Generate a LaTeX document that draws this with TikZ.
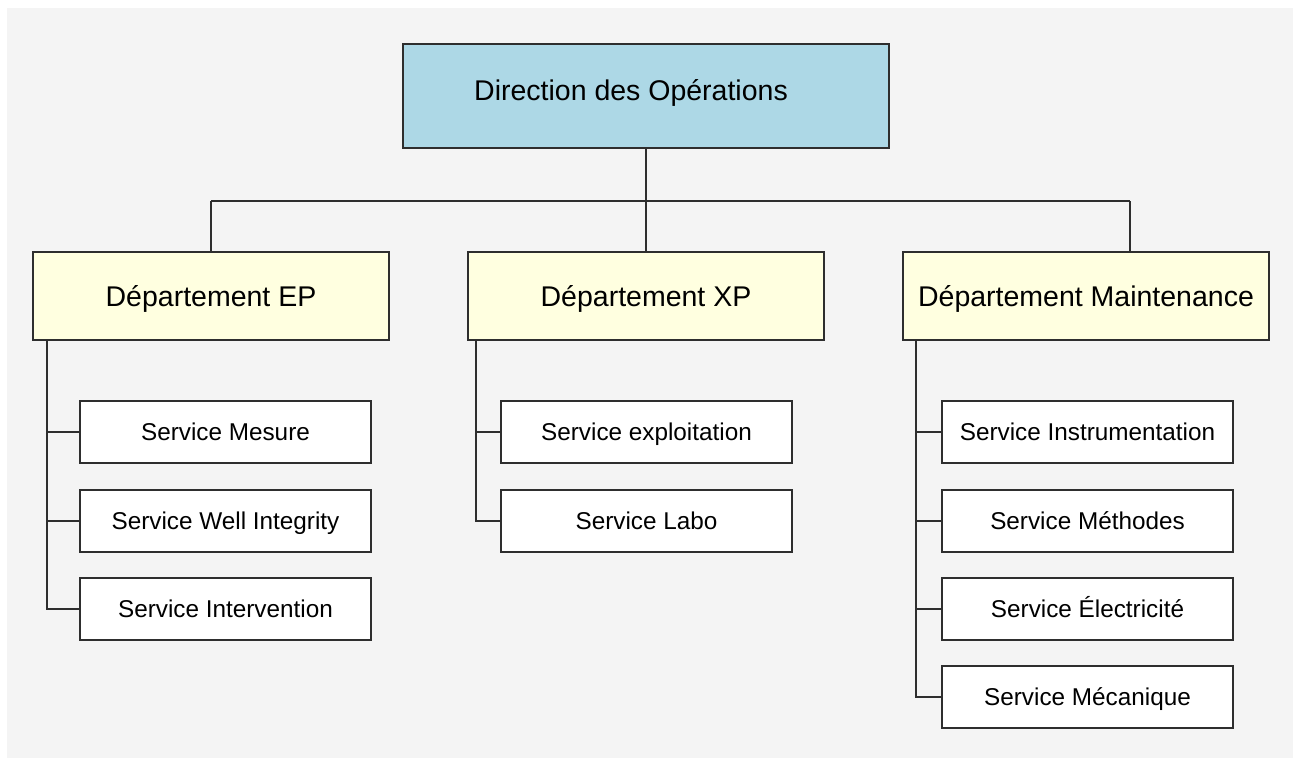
\documentclass[tikz,border=0pt]{standalone}
\usepackage{fontspec}
\setmainfont{Liberation Sans}
\definecolor{panel}{HTML}{F4F4F4}
\definecolor{topfill}{HTML}{ADD8E6}
\definecolor{deptfill}{HTML}{FFFFE0}
\definecolor{ink}{HTML}{2E2E2E}
\tikzset{
  box/.style={draw=ink, line width=2pt, rectangle, inner sep=0pt, align=center},
  dirbox/.style={box, fill=topfill, minimum width=486pt, minimum height=104pt},
  deptbox/.style={box, fill=deptfill, minimum width=356pt, minimum height=88pt,
    font=\fontsize{28.5}{34}\selectfont, text height=20.4pt, text depth=0pt},
  servbox/.style={box, fill=white, minimum width=291pt, minimum height=62pt,
    font=\fontsize{24.3}{29}\selectfont, text height=17.4pt, text depth=0pt},
  bigtext/.style={inner sep=0pt, font=\fontsize{28.5}{34}\selectfont, text height=20.4pt, text depth=0pt},
  link/.style={draw=ink, line width=2pt}
}
\begin{document}
\begin{tikzpicture}[x=1pt, y=-1pt]
  \useasboundingbox (0,0) rectangle (1298,758);
  \fill[white] (0,0) rectangle (1298,758);
  \fill[panel] (7,8) rectangle (1293,758);

  % top level
  \node[dirbox] (dir) at (645.7,96.2) {};
  \node[bigtext] (dirtext) at (631,90) {Direction des Opérations};

  % departments
  \node[deptbox] (ep) at (211,296) {Département EP};
  \node[deptbox] (xp) at (646,296) {Département XP};
  \node[deptbox, minimum width=366pt] (mt) at (1086,296) {Département Maintenance};

  % bus between the direction and the departments
  \coordinate (busL) at (211,201);
  \coordinate (busR) at (1130,201);
  \draw[link] (dir.south) -- (dir.south |- busL);
  \draw[link] (busL) -- (busR);
  \draw[link] (busL) -- (ep.north);
  \draw[link] (xp.north |- busL) -- (xp.north);
  \draw[link] (busR) -- (busR |- mt.north);

  % services of Département EP
  \node[servbox] (ep1) at (225.5,431.5) {Service Mesure};
  \node[servbox] (ep2) at (225.5,520.5) {Service Well Integrity};
  \node[servbox] (ep3) at (225.5,608.5) {Service Intervention};
  \coordinate (epspine) at ([xshift=15]ep.south west);
  \draw[link] (epspine) |- (ep3.west);
  \draw[link] (ep1.west) -- (ep1.west -| epspine);
  \draw[link] (ep2.west) -- (ep2.west -| epspine);

  % services of Département XP
  \node[servbox] (xp1) at (646.5,431.5) {Service exploitation};
  \node[servbox] (xp2) at (646.5,520.5) {Service Labo};
  \coordinate (xpspine) at ([xshift=9]xp.south west);
  \draw[link] (xpspine) |- (xp2.west);
  \draw[link] (xp1.west) -- (xp1.west -| xpspine);

  % services of Département Maintenance
  \node[servbox] (mt1) at (1087.5,431.5) {Service Instrumentation};
  \node[servbox] (mt2) at (1087.5,520.5) {Service Méthodes};
  \node[servbox] (mt3) at (1087.5,608.5) {Service Électricité};
  \node[servbox] (mt4) at (1087.5,697) {Service Mécanique};
  \coordinate (mtspine) at ([xshift=14]mt.south west);
  \draw[link] (mtspine) |- (mt4.west);
  \draw[link] (mt1.west) -- (mt1.west -| mtspine);
  \draw[link] (mt2.west) -- (mt2.west -| mtspine);
  \draw[link] (mt3.west) -- (mt3.west -| mtspine);
\end{tikzpicture}
\end{document}
